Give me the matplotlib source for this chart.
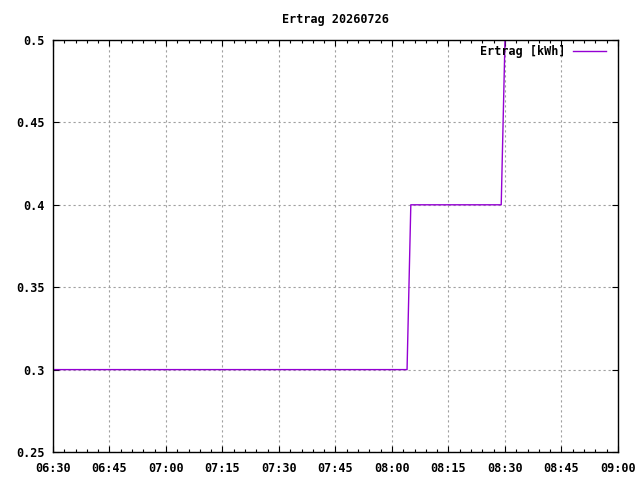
import numpy as np
import matplotlib
matplotlib.use('Agg')
import matplotlib.pyplot as plt
import matplotlib.dates as mdates
from datetime import datetime

#-----------------------------------
# Data
#-----------------------------------
day          = '2026-07-26'
times        = ['06:30', '08:04', '08:05', '08:29', '08:30']
ertrag       = [0.3, 0.3, 0.4, 0.4, 0.5]
xTicks       = ['06:30', '06:45', '07:00', '07:15', '07:30', '07:45',
                '08:00', '08:15', '08:30', '08:45', '09:00']
yTicks       = [0.25, 0.3, 0.35, 0.4, 0.45, 0.5]
yTickLabels  = ['0.25', '0.3', '0.35', '0.4', '0.45', '0.5']

def toDate(t):
    return datetime.strptime(day + ' ' + t, '%Y-%m-%d %H:%M')

x = [toDate(t) for t in times]

plt.rcParams['font.family'] = 'DejaVu Sans Mono'
plt.rcParams['font.weight'] = 'bold'
plt.rcParams['font.size']   = 8.5

fig = plt.figure(figsize=(6.4, 4.8), dpi=100)
ax  = fig.add_axes([0.0828, 0.0583, 0.8828, 0.8584])

ax.plot(x, ertrag, '-', color='#9400d3', linewidth=1.0, label='Ertrag [kWh]')

ax.set_xlim(toDate(xTicks[0]), toDate(xTicks[-1]))
ax.set_ylim(0.25, 0.5)
ax.set_xticks([toDate(t) for t in xTicks])
ax.set_xticklabels(xTicks)
ax.xaxis.set_minor_locator(mdates.MinuteLocator(byminute=range(0, 60, 3)))
ax.set_yticks(yTicks)
ax.set_yticklabels(yTickLabels)

ax.tick_params(which='both', direction='in', top=True, right=True, width=0.8)
ax.tick_params(which='major', length=4)
ax.tick_params(axis='x', which='major', pad=7)
ax.tick_params(axis='y', which='major', pad=6)
ax.tick_params(which='minor', length=2.5)
for s in ax.spines.values():
    s.set_linewidth(1.0)

ax.grid(True, which='major', color='#a0a0a0', linestyle=(0, (2, 2.5)), linewidth=0.8)

ax.set_title('Ertrag 20260726', fontsize=8.5, fontweight='bold', pad=12)
ax.legend(loc='upper right', frameon=False, markerfirst=False, handlelength=2.8,
          borderaxespad=0, borderpad=0, handletextpad=0.6,
          bbox_to_anchor=(606/640, 1 - 45/480), bbox_transform=fig.transFigure)

plt.savefig('out.png', dpi=100)
